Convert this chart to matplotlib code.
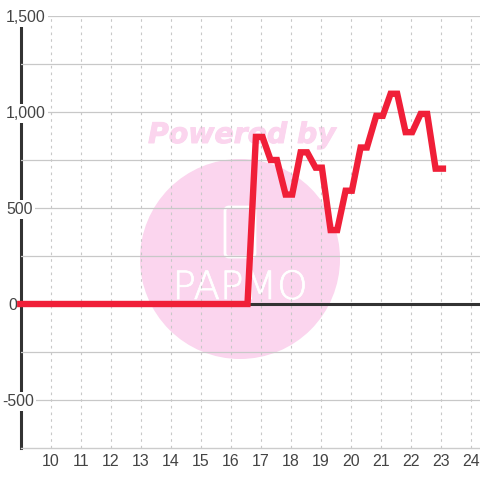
import matplotlib
matplotlib.use("Agg")
import matplotlib.pyplot as plt
import matplotlib.patheffects as pe
from matplotlib.patches import Circle, FancyBboxPatch
from matplotlib.ticker import FuncFormatter

hours = [8.87, 16.55, 16.83, 17.05, 17.32, 17.53, 17.82, 18.04, 18.32, 18.54, 18.82, 19.03,
         19.32, 19.54, 19.82, 20.03, 20.32, 20.53, 20.84, 21.06, 21.32, 21.54, 21.82,
         22.04, 22.32, 22.54, 22.82, 23.17]
values = [0, 0, 870, 870, 750, 750, 570, 570, 790, 790, 710, 710,
          385, 385, 590, 590, 815, 815, 980, 980, 1095, 1095, 895,
          895, 990, 990, 705, 705]
x_ticks = list(range(10, 25))
y_ticks = [-500, 0, 500, 1000, 1500]
y_minor = [-250, 250, 750, 1250]

plt.rcParams['font.family'] = 'Liberation Sans'
W = 480
fig = plt.figure(figsize=(4.8, 4.8), dpi=100)
ax = fig.add_axes([20.5/W, 1-448/W, 459.5/W, 432/W])
ax.set_xlim(10-30.5/30, 10+429/30)
ax.set_ylim(-750, 1500)
ax.patch.set_alpha(0)

# watermark
pink = '#fbd5ee'
fig.patches.append(Circle((240, W-259), 100, transform=None, fc=pink, ec='none', zorder=-5))
fig.patches.append(FancyBboxPatch((225, W-257), 30, 50, boxstyle='round,pad=0,rounding_size=4',
                                  transform=None, fc='none', ec='white', lw=2, zorder=-4))
fig.text(242/W, 1-135/W, 'Powered by', ha='center', va='center', fontsize=20.4,
         fontweight='bold', style='italic', family='DejaVu Sans', color=pink, zorder=-4,
         path_effects=[pe.withStroke(linewidth=0.7, foreground=pink)])
fig.text(240/W, 1-288/W, 'PAPMO', ha='center', va='center', fontsize=28,
         family='DejaVu Sans', fontweight='light', color='white', zorder=-4,
         path_effects=[pe.withStroke(linewidth=0.5, foreground='white')])

ax.set_xticks(x_ticks)
ax.set_yticks(y_ticks)
ax.set_yticks(y_minor, minor=True)
ax.yaxis.set_major_formatter(FuncFormatter(lambda v, p: f'{int(v):,}'))
ax.grid(True, axis='y', which='both', color='#c8c8c8', lw=0.9)
ax.grid(True, axis='x', color='#c8c8c8', lw=0.8, ls=(0, (2.4, 3.6)))
ax.set_axisbelow(False)
ax.tick_params(axis='both', which='both', length=0)
ax.tick_params(axis='x', labelsize=11.4, pad=4.5, colors='#444444')
ax.tick_params(axis='y', labelsize=11.4, pad=0, colors='#444444')
left_px = {-500: 2, 0: 8, 500: 6, 1000: 6, 1500: 6}
fig.canvas.draw()
for v, lab in zip(y_ticks, ax.get_yticklabels()):
    lab.set_ha('left')
    lab.set_x((left_px[v] - 20.5) / 459.5)
    lab.set_bbox(dict(fc='white', ec='none', pad=1.5))
for s in ['top', 'right']:
    ax.spines[s].set_visible(False)
ax.spines['bottom'].set_color('#cccccc')
ax.spines['bottom'].set_linewidth(1)
ax.spines['left'].set_color('#333333')
ax.spines['left'].set_linewidth(2.2)
ax.spines['left'].set_zorder(2)
ax.axhline(0, color='#333333', lw=2.2, zorder=3)
ax.plot(hours, values, color='#f01f38', lw=4.6, solid_joinstyle='miter',
        solid_capstyle='butt', zorder=4, clip_on=False)
fig.savefig('out.png', dpi=100)
